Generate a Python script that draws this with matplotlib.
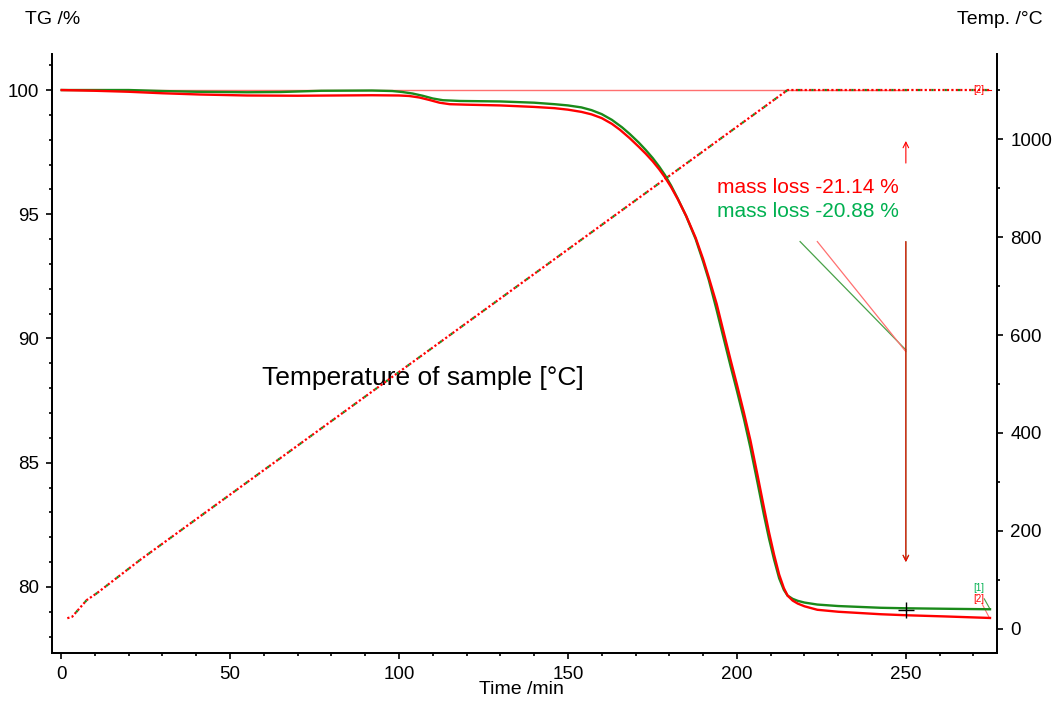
import matplotlib
matplotlib.use("Agg")
import matplotlib.pyplot as plt
import numpy as np

plt.rcParams['font.family'] = ['Liberation Sans', 'DejaVu Sans']

# --- data ---
time_red = [0.2, 10, 20, 30, 41, 55, 70, 92, 100, 103, 106, 109, 112, 115, 120, 130, 140,
            146, 150, 154, 157, 160, 163, 165.4, 168.3, 171, 173, 175.1, 177, 178.7, 180.5,
            182.5, 185, 187.8, 190, 191.7, 194, 196, 198.2, 200, 202.1, 204, 206.1, 208,
            209.5, 211, 212.5, 213.9, 215, 216.5, 218, 220, 223.8, 230, 242.6, 250, 262, 274.9]
tg_red = [100.0, 99.97, 99.93, 99.87, 99.82, 99.78, 99.77, 99.79, 99.78, 99.76, 99.70, 99.60,
          99.49, 99.43, 99.41, 99.38, 99.32, 99.27, 99.21, 99.12, 99.02, 98.87, 98.64, 98.40,
          98.06, 97.71, 97.44, 97.13, 96.81, 96.49, 96.10, 95.61, 94.93, 94.05, 93.20, 92.45,
          91.40, 90.30, 89.10, 88.15, 87.00, 85.90, 84.50, 83.20, 82.20, 81.30, 80.50, 79.95,
          79.65, 79.45, 79.33, 79.22, 79.08, 79.00, 78.90, 78.86, 78.81, 78.75]

time_green = [0.2, 10, 20, 30, 40, 55, 65, 77, 92, 98, 101, 104, 107, 110, 113, 118, 130,
              140, 146, 150, 154, 157, 160, 163, 166, 168.3, 171, 173, 175.1, 177, 178.7,
              180.5, 182.5, 185, 187.8, 190, 191.7, 194, 196, 198.2, 200, 202.1, 204, 206.1,
              208, 209.5, 211, 212.5, 213.9, 215, 216.5, 218, 220, 223.8, 230, 242.6, 250,
              262, 274.9]
tg_green = [100.0, 100.0, 100.0, 99.96, 99.93, 99.91, 99.92, 99.97, 99.98, 99.96, 99.92,
            99.86, 99.77, 99.66, 99.59, 99.56, 99.54, 99.49, 99.43, 99.38, 99.30, 99.19,
            99.03, 98.80, 98.50, 98.23, 97.88, 97.59, 97.26, 96.92, 96.58, 96.16, 95.63,
            94.92, 94.00, 93.10, 92.35, 91.15, 90.05, 88.85, 87.90, 86.75, 85.60, 84.20,
            82.90, 81.95, 81.10, 80.35, 79.88, 79.65, 79.52, 79.44, 79.37, 79.29, 79.23,
            79.16, 79.14, 79.12, 79.10]

time_temp = [1.86, 3.3, 7.6, 10.6, 23.4, 215.0, 275.0]
temp_sample = [22, 25, 59, 73, 141, 1100, 1100]

mass_loss_red = -21.14
mass_loss_green = -20.88

RED = '#ff0000'
GREEN = '#1a8a1a'
GREEN_TXT = '#00b050'
LRED = '#ff7070'

fig = plt.figure(figsize=(10.56, 7.01), dpi=100)
ax = fig.add_axes([52/1056, 1-653/701, (997-52)/1056, (653-54)/701])
ax2 = ax.twinx()

ax.set_xlim(-2.67, 276.97)
ax.set_ylim(77.34, 101.45)
ax2.set_ylim(-49, 1173.5)

# reference line at 100 %
ax.plot([0, 250], [100, 100], color=LRED, lw=1.0, zorder=2)

# temperature (dotted red/green)
ax2.plot(time_temp, temp_sample, color=RED, lw=1.6, linestyle=(0, (1, 1)), zorder=3)
ax2.plot(time_temp, temp_sample, color=GREEN, lw=1.6, linestyle=(1, (1, 5)), zorder=3)

# TG curves
ax.plot(time_green, tg_green, color=GREEN, lw=1.7, zorder=4, solid_joinstyle='round')
ax.plot(time_red, tg_red, color=RED, lw=1.7, zorder=5, solid_joinstyle='round')

# mass-loss annotation
ax.annotate('', xy=(250, 97.95), xytext=(250, 97.06),
            arrowprops=dict(arrowstyle='->', color=RED, lw=0.8, shrinkA=0, shrinkB=0))
ax.annotate('', xy=(250, 81.0), xytext=(250, 93.9),
            arrowprops=dict(arrowstyle='->', color=GREEN, lw=0.8, shrinkA=0, shrinkB=0))
ax.annotate('', xy=(250, 81.0), xytext=(250, 93.9),
            arrowprops=dict(arrowstyle='->', color=RED, lw=0.8, shrinkA=0, shrinkB=0))
ax.plot([218.7, 250], [93.9, 89.54], color=GREEN, lw=0.9, alpha=0.8)
ax.plot([223.8, 250], [93.9, 89.47], color=LRED, lw=0.9)
ax.text(194.0, 96.06, f'mass loss {mass_loss_red:.2f} %', color=RED, fontsize=15,
        va='center', ha='left')
ax.text(194.0, 95.13, f'mass loss {mass_loss_green:.2f} %', color=GREEN_TXT, fontsize=15,
        va='center', ha='left')

# crosshair
ax.plot([250], [79.07], marker='+', color='black', markersize=11, mew=1.0, zorder=6)

# curve labels
ax.plot([274.9, 273.2], [79.11, 79.52], color=GREEN, lw=0.8, alpha=0.8)
ax.plot([274.7, 272.7], [78.76, 79.28], color=LRED, lw=0.8)
ax.text(271.7, 79.95, '[1]', color=GREEN_TXT, fontsize=7, ha='center', va='center')
ax.text(271.7, 79.50, '[2]', color=RED, fontsize=7, ha='center', va='center')
ax.text(271.6, 100.0, '[2]', color=RED, fontsize=7, ha='center', va='center')
ax.plot([273.3, 275.2], [100, 100], color=RED, lw=0.8)

ax.text(59.5, 88.41, 'Temperature of sample [°C]', fontsize=19, ha='left', va='center')

# axes styling
ax.spines['top'].set_visible(False)
ax2.spines['top'].set_visible(False)
for a in (ax, ax2):
    for s in a.spines.values():
        s.set_linewidth(1.3)
ax.set_xticks(np.arange(0, 251, 50))
ax.set_xticks(np.arange(0, 276, 10), minor=True)
ax.set_yticks(np.arange(80, 101, 5))
ax.set_yticks(np.arange(78, 102, 1), minor=True)
ax2.set_yticks(np.arange(0, 1001, 200))
ax2.set_yticks(np.arange(0, 1101, 100), minor=True)
ax.tick_params(axis='both', which='major', labelsize=13.5, length=4.5, width=1.2,
               direction='out', pad=5)
ax.tick_params(axis='both', which='minor', length=2.5, width=1.2, direction='out')
ax2.tick_params(axis='y', which='major', labelsize=13.5, length=4.5, width=1.2,
                direction='out', pad=5)
ax2.tick_params(axis='y', which='minor', length=2.5, width=1.2, direction='out')

fig.text(25/1056, 1-20/701, 'TG /%', fontsize=14, ha='left', va='center')
fig.text(1043/1056, 1-20/701, 'Temp. /°C', fontsize=14, ha='right', va='center')
fig.text(521/1056, 1-690/701, 'Time /min', fontsize=14, ha='center', va='center')

fig.savefig('out.png', dpi=100)
